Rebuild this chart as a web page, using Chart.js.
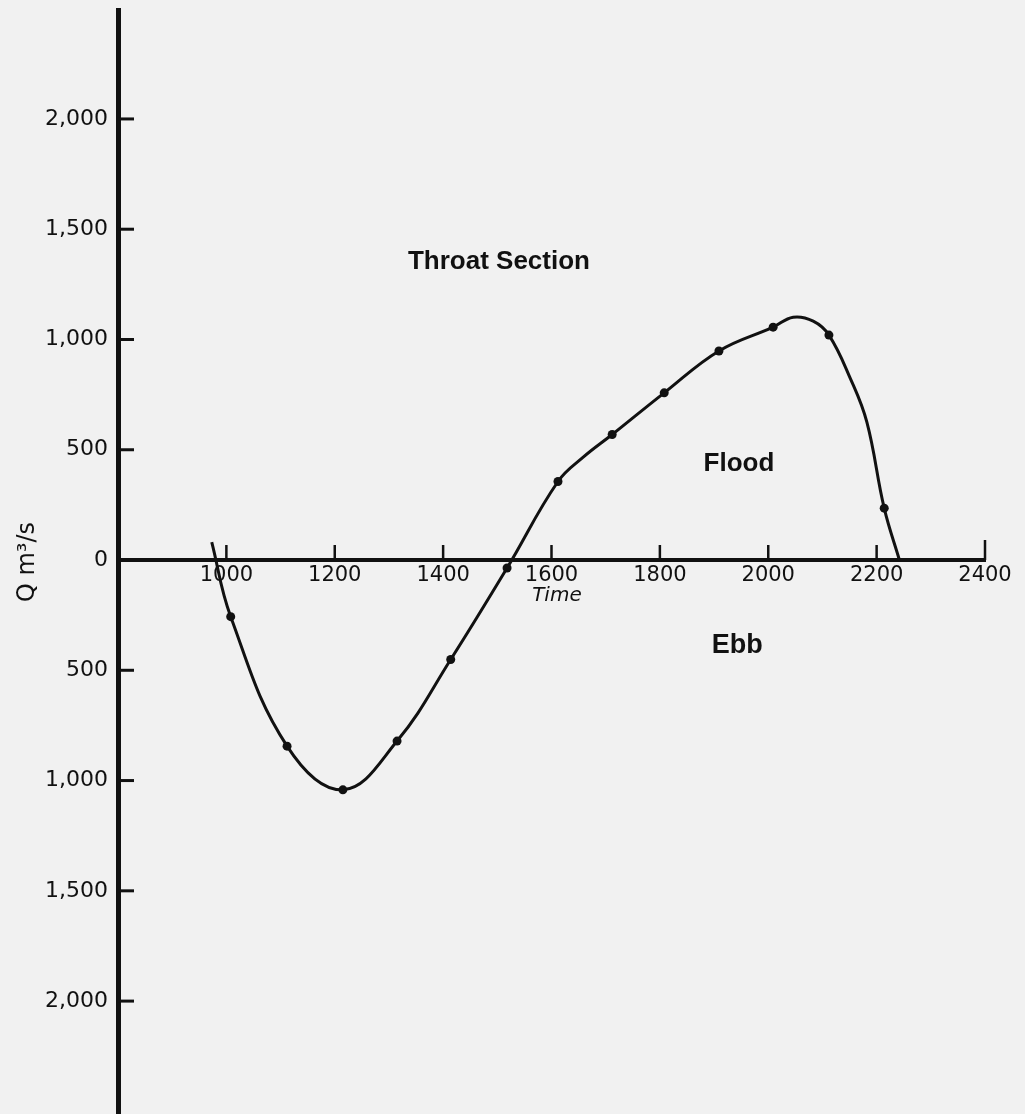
<!DOCTYPE html>
<html>
<head>
<meta charset="utf-8">
<title>Throat Section</title>
<script src="https://cdn.jsdelivr.net/npm/chart.js@4.4.1/dist/chart.umd.min.js"></script>
<style>
  html, body { margin: 0; padding: 0; background: #f1f1f1; }
  #wrap { width: 1025px; height: 1114px; }
</style>
</head>
<body>
<div id="wrap"><canvas id="chart" width="1025" height="1114"></canvas></div>
<script>
// curve: time vs discharge (ebb negative)
const times = [973, 1008, 1112, 1215, 1315, 1414, 1518, 1612, 1658, 1712, 1808, 1909, 2009, 2046, 2083, 2112, 2151, 2182, 2214, 2242];
const flows = [81, -257, -844, -1042, -821, -451, -36, 356, 465, 569, 758, 948, 1056, 1101, 1083, 1020, 826, 625, 235, 0];
// which curve vertices carry a dot (measured values)
const measured = [false, true, true, true, true, true, true, true, false, true, true, true, true, false, false, true, false, false, true, false];

const xTickValues = [1000, 1200, 1400, 1600, 1800, 2000, 2200, 2400];
const yTickValues = [-2000, -1500, -1000, -500, 0, 500, 1000, 1500, 2000];

// text written on the plot, placed in data units
const notes = [
  { text: 'Throat Section', t: 1503, q: 1318, font: 'bold 26px "Liberation Sans"' },
  { text: 'Flood', t: 1946, q: 402, font: 'bold 26px "Liberation Sans"' },
  { text: 'Ebb', t: 1943, q: -420, font: 'bold 27px "Liberation Sans"' },
  { text: 'Time', t: 1610, q: -185, font: 'italic 20px "DejaVu Sans"' }
];

const ink = '#111';

const paper = {
  id: 'paper',
  beforeDraw(chart) {
    const ctx = chart.ctx;
    ctx.save();
    ctx.fillStyle = '#f1f1f1';
    ctx.fillRect(0, 0, chart.width, chart.height);
    ctx.restore();
  }
};

// tick marks point into the plot, so draw them by hand
const marks = {
  id: 'marks',
  afterDraw(chart) {
    const { ctx, chartArea } = chart;
    const xs = chart.scales.x;
    const ys = chart.scales.y;
    const y0 = ys.getPixelForValue(0);
    ctx.save();
    ctx.strokeStyle = ink;
    ctx.lineCap = 'butt';

    ctx.lineWidth = 3;
    yTickValues.forEach(v => {
      if (v === 0) return;
      const py = ys.getPixelForValue(v);
      ctx.beginPath();
      ctx.moveTo(chartArea.left, py);
      ctx.lineTo(chartArea.left + 16, py);
      ctx.stroke();
    });

    ctx.lineWidth = 2.5;
    xTickValues.forEach(v => {
      const px = xs.getPixelForValue(v);
      const len = v === 2400 ? 20 : 15;
      ctx.beginPath();
      ctx.moveTo(px, y0);
      ctx.lineTo(px, y0 - len);
      ctx.stroke();
    });

    ctx.fillStyle = ink;
    ctx.textAlign = 'center';
    ctx.textBaseline = 'alphabetic';
    notes.forEach(n => {
      ctx.font = n.font;
      ctx.fillText(n.text, xs.getPixelForValue(n.t), ys.getPixelForValue(n.q));
    });
    ctx.restore();
  }
};

new Chart(document.getElementById('chart'), {
  type: 'line',
  data: {
    datasets: [{
      label: 'Q',
      data: times.map((t, i) => ({ x: t, y: flows[i] })),
      borderColor: ink,
      borderWidth: 3,
      tension: 0.4,
      fill: false,
      pointRadius: measured.map(m => (m ? 4.5 : 0)),
      pointBackgroundColor: ink,
      pointBorderWidth: 0
    }]
  },
  options: {
    responsive: false,
    devicePixelRatio: 1,
    animation: false,
    layout: { padding: { left: 0, right: 40, top: 10, bottom: 0 } },
    plugins: {
      legend: { display: false },
      tooltip: { enabled: false }
    },
    scales: {
      x: {
        type: 'linear',
        position: { y: 0 },
        min: 800,
        max: 2400,
        afterBuildTicks: s => { s.ticks = xTickValues.map(v => ({ value: v })); },
        grid: { display: true, drawOnChartArea: false, drawTicks: false },
        border: { display: true, color: ink, width: 4 },
        ticks: {
          color: ink,
          padding: 3,
          maxRotation: 0,
          autoSkip: false,
          font: { family: 'DejaVu Sans', size: 21 },
          callback: v => String(v)
        }
      },
      y: {
        type: 'linear',
        position: 'left',
        min: -2512,
        max: 2494,
        afterBuildTicks: s => { s.ticks = yTickValues.map(v => ({ value: v })); },
        afterFit: s => {
          s.width = 118;
          s.paddingTop = 0;
          s.paddingBottom = 0;
        },
        grid: { display: true, drawOnChartArea: false, drawTicks: false },
        border: { display: true, color: ink, width: 5 },
        ticks: {
          color: ink,
          padding: 10,
          autoSkip: false,
          font: { family: 'DejaVu Sans', size: 22 },
          callback: v => (v === 0 ? '0' : Math.abs(v).toLocaleString('en-US'))
        },
        title: {
          display: true,
          text: 'Q m³/s',
          color: ink,
          padding: { top: 13, bottom: 0 },
          font: { family: 'DejaVu Sans', size: 24 }
        }
      }
    }
  },
  plugins: [paper, marks]
});
</script>
</body>
</html>
